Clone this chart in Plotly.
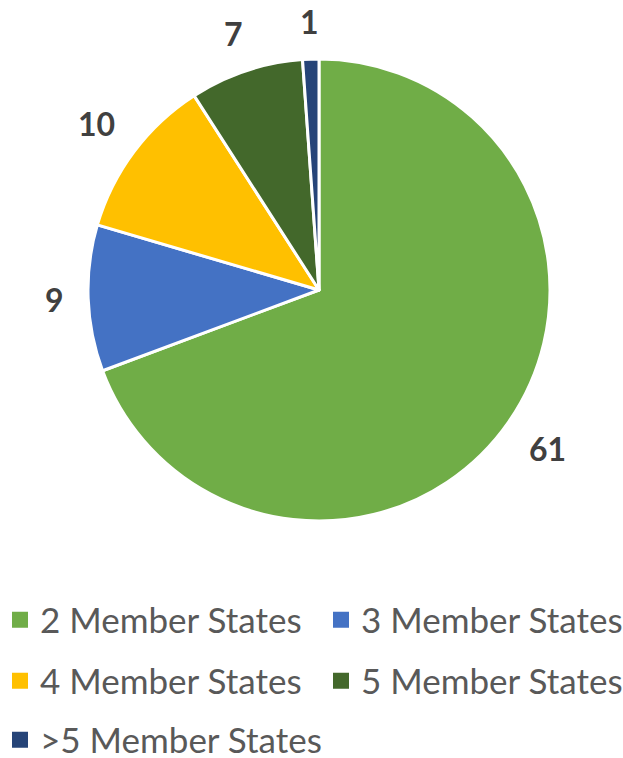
import math
import plotly.graph_objects as go

labels = ["2 Member States", "3 Member States", "4 Member States", "5 Member States", ">5 Member States"]
values = [61, 9, 10, 7, 1]
colors = ["#70AD47", "#4472C4", "#FFC000", "#43682B", "#264478"]

W, H = 623, 758
cx_px, cy_px, r_px = 319, 290, 231
dom_x = [(cx_px - r_px) / W, (cx_px + r_px) / W]
dom_y = [1 - (cy_px + r_px) / H, 1 - (cy_px - r_px) / H]

fig = go.Figure(go.Pie(
    labels=labels, values=values, sort=False, direction="clockwise", rotation=0,
    marker=dict(colors=colors, line=dict(color="white", width=3)),
    textinfo="none",
    domain=dict(x=dom_x, y=dom_y),
    showlegend=False, hoverinfo="label+value",
))

# value labels placed outside each slice, at the slice's mid-angle
total = sum(values)
cum = 0
gap_px = 24
digit_w, digit_h = 18.5, 26
for v in values:
    mid = (cum + v / 2) / total * 2 * math.pi
    cum += v
    s, c = math.sin(mid), -math.cos(mid)
    half_ext = abs(s) * len(str(v)) * digit_w / 2 + abs(c) * digit_h / 2
    d = r_px + gap_px + half_ext
    px = cx_px + d * s
    py = cy_px + d * c
    fig.add_annotation(x=px / W, y=1 - py / H, xref="paper", yref="paper",
                       text=str(v), showarrow=False, xanchor="center", yanchor="middle",
                       borderpad=0,
                       font=dict(family="Lato", size=32, color="#404040", weight="bold"))

# legend entries: one legend per entry, laid out two per row
legend_ids = ["legend", "legend2", "legend3", "legend4", "legend5"]
col_x_px = [0, 321]
row_y_px = [620, 681, 740]
leg_layout = {}
for i, (lab, col) in enumerate(zip(labels, colors)):
    fig.add_trace(go.Scatter(
        x=[None], y=[None], mode="markers", name=lab,
        marker=dict(symbol="square", size=16, color=col, line=dict(width=0)),
        legend=legend_ids[i], showlegend=True, hoverinfo="skip",
    ))
    leg_layout[legend_ids[i]] = dict(
        x=col_x_px[i % 2] / W, y=1 - row_y_px[i // 2] / H,
        xanchor="left", yanchor="middle", orientation="h",
        bgcolor="rgba(0,0,0,0)", borderwidth=0,
        font=dict(family="Lato", size=35, color="#595959"),
    )

fig.update_layout(
    width=W, height=H, margin=dict(l=0, r=0, t=0, b=0, autoexpand=False),
    paper_bgcolor="white", plot_bgcolor="white",
    xaxis=dict(visible=False), yaxis=dict(visible=False),
    **leg_layout,
)
fig.write_html("out.html", config={"displayModeBar": False},
               post_script="document.body.style.margin='0';")
